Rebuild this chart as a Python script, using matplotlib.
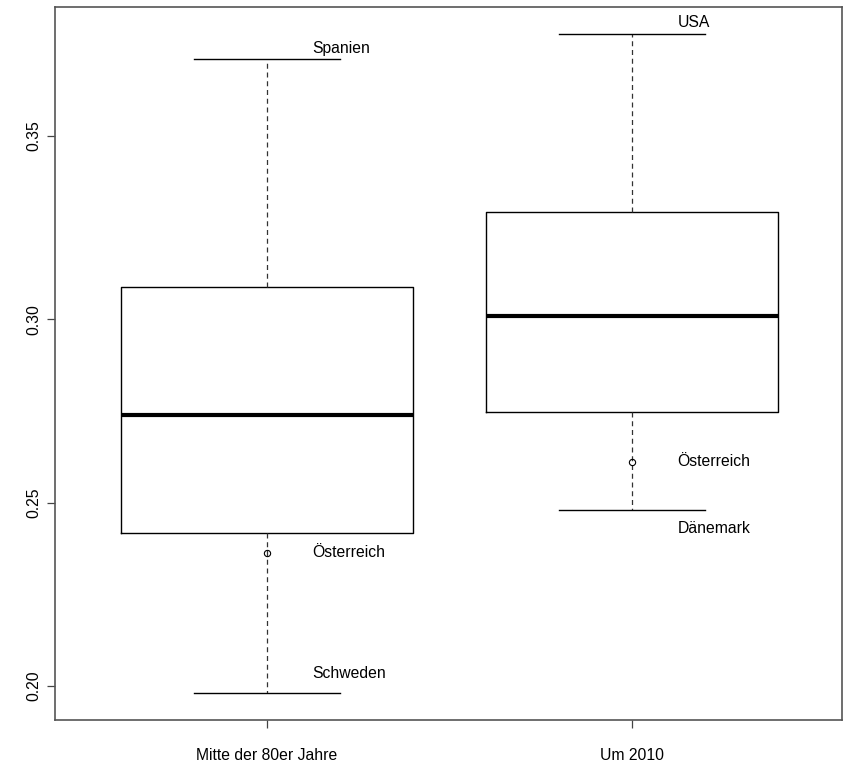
import matplotlib.pyplot as plt

plt.rcParams['font.family'] = ['Liberation Sans', 'DejaVu Sans']

groups = ["Mitte der 80er Jahre", "Um 2010"]
whislo = [0.198, 0.248]
q1 = [0.2417, 0.2747]
med = [0.2739, 0.3009]
q3 = [0.3089, 0.3292]
whishi = [0.3710, 0.3779]
fliers = [[0.2362], [0.2611]]

# country labels next to whiskers / outliers
lab_text = ["Spanien", "Österreich", "Schweden", "USA", "Österreich", "Dänemark"]
lab_group = [0, 0, 0, 1, 1, 1]
lab_y = [0.3738, 0.2363, 0.2033, 0.3809, 0.2611, 0.2428]

stats = []
for i, g in enumerate(groups):
    stats.append(dict(label=g, whislo=whislo[i], q1=q1[i], med=med[i],
                      q3=q3[i], whishi=whishi[i], fliers=fliers[i]))

fig = plt.figure(figsize=(8.48, 7.67), dpi=100)
ax = fig.add_axes([0.0649, 0.0613, 0.928, 0.9296])

pos = [1, 2]
ax.bxp(stats, positions=pos, widths=0.8, capwidths=0.4,
       boxprops=dict(color="black", linewidth=1.0),
       medianprops=dict(color="black", linewidth=3.0),
       whiskerprops=dict(color="#333333", linewidth=0.9, linestyle=(0, (4, 3))),
       capprops=dict(color="black", linewidth=1.0),
       flierprops=dict(marker="o", markersize=4.5, markerfacecolor="none",
                       markeredgecolor="black", markeredgewidth=0.8))

for t, gi, y in zip(lab_text, lab_group, lab_y):
    ax.text(pos[gi] + 0.125, y, t, ha="left", va="center", fontsize=11.3)

ax.set_xlim(0.419, 2.575)
ax.set_ylim(0.1907, 0.3852)
ax.set_yticks([0.20, 0.25, 0.30, 0.35])
ax.set_yticklabels(["0.20", "0.25", "0.30", "0.35"], rotation=90, va="center")
ax.set_xticks(pos)
ax.set_xticklabels(groups)
ax.tick_params(axis="both", length=6, width=0.9, labelsize=11.3, color="#444444")
ax.tick_params(axis="x", pad=14)
ax.tick_params(axis="y", pad=4)
for s in ax.spines.values():
    s.set_color("#555555")
    s.set_linewidth(1.2)

fig.savefig("out.png", dpi=100)
